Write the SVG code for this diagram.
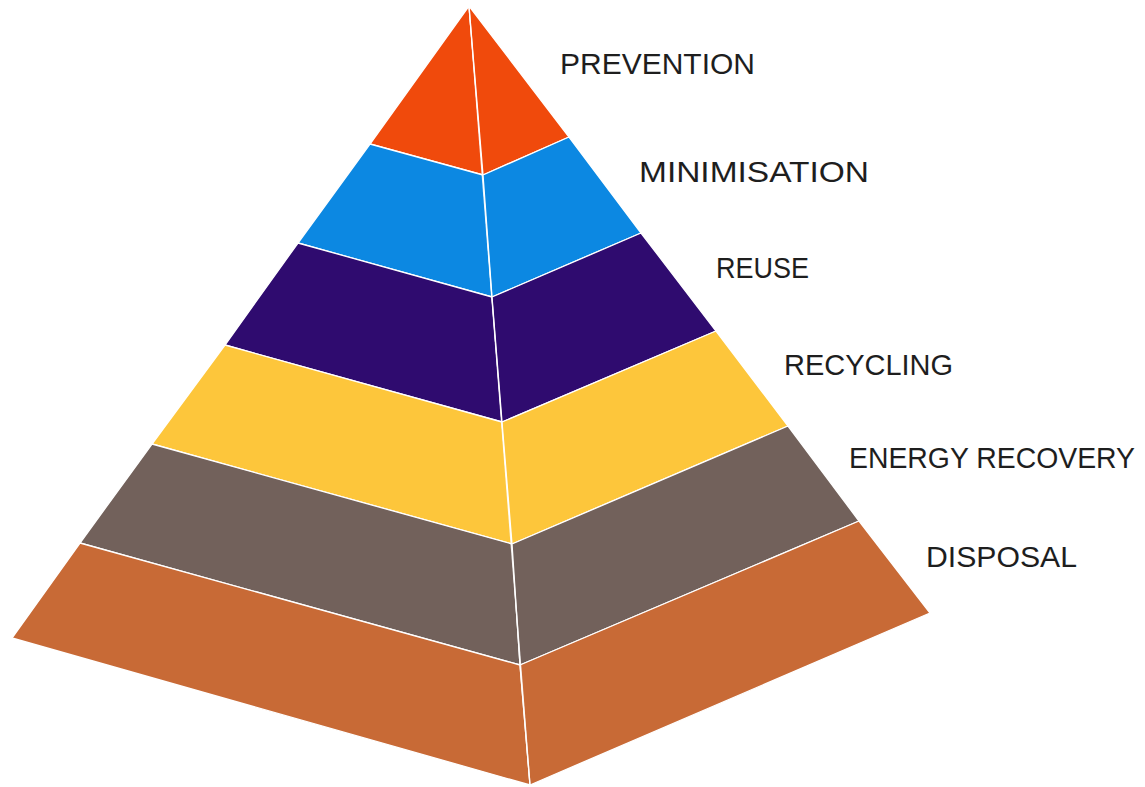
<svg xmlns="http://www.w3.org/2000/svg" width="1145" height="787" viewBox="0 0 1145 787">
<style>
.face{stroke:#ffffff;stroke-width:1.3;stroke-linejoin:round}
.lbl{font-family:"Liberation Sans","DejaVu Sans",sans-serif;font-size:29px;fill:#1e1e1e}
</style>
<rect width="1145" height="787" fill="#ffffff"/>
<g id="prevention">
<polygon class="face" fill="#F04A0C" points="469,6 370,144 483,175"/>
<polygon class="face" fill="#F04A0C" points="469,6 483,175 569,137"/>
<text class="lbl" x="560" y="74" textLength="195" lengthAdjust="spacingAndGlyphs">PREVENTION</text>
</g>
<g id="minimisation">
<polygon class="face" fill="#0C88E2" points="370,144 483,175 492,297 298,243"/>
<polygon class="face" fill="#0C88E2" points="483,175 569,137 641,233 492,297"/>
<text class="lbl" x="639" y="182" textLength="230" lengthAdjust="spacingAndGlyphs">MINIMISATION</text>
</g>
<g id="reuse">
<polygon class="face" fill="#2F0B6F" points="298,243 492,297 502,422 225,345"/>
<polygon class="face" fill="#2F0B6F" points="492,297 641,233 716,331 502,422"/>
<text class="lbl" x="716" y="278" textLength="93" lengthAdjust="spacingAndGlyphs">REUSE</text>
</g>
<g id="recycling">
<polygon class="face" fill="#FDC63B" points="225,345 502,422 512,544 152,444"/>
<polygon class="face" fill="#FDC63B" points="502,422 716,331 788,426 512,544"/>
<text class="lbl" x="784" y="375" textLength="169" lengthAdjust="spacingAndGlyphs">RECYCLING</text>
</g>
<g id="energy-recovery">
<polygon class="face" fill="#72615B" points="152,444 512,544 520,665 80,543"/>
<polygon class="face" fill="#72615B" points="512,544 788,426 859,521 520,665"/>
<text class="lbl" x="849" y="468" textLength="286" lengthAdjust="spacingAndGlyphs">ENERGY RECOVERY</text>
</g>
<g id="disposal">
<polygon class="face" fill="#C86A36" points="80,543 520,665 530,785 12,638"/>
<polygon class="face" fill="#C86A36" points="520,665 859,521 930,613 530,785"/>
<text class="lbl" x="926" y="567" textLength="151" lengthAdjust="spacingAndGlyphs">DISPOSAL</text>
</g>
<g id="connectors">
<line x1="469" y1="6" x2="530" y2="785" stroke="#ffffff" stroke-width="1.3" opacity="0.85"/>
</g>
</svg>
